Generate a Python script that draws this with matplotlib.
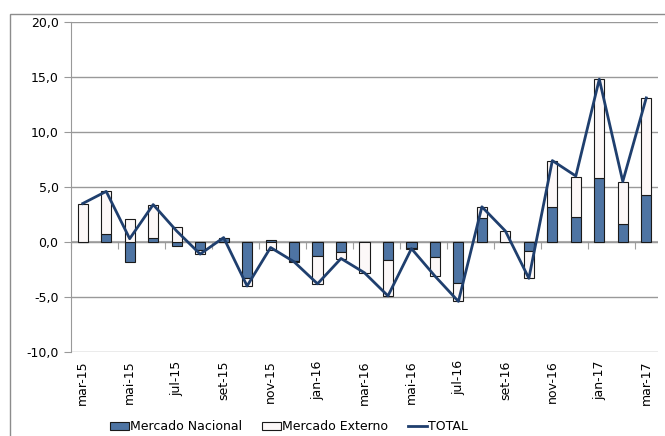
import numpy as np
import matplotlib
matplotlib.use("Agg")
import matplotlib.pyplot as plt
from matplotlib.ticker import FuncFormatter
from matplotlib.patches import Rectangle

months = ['mar-15', 'abr-15', 'mai-15', 'jun-15', 'jul-15', 'ago-15', 'set-15', 'out-15',
          'nov-15', 'dez-15', 'jan-16', 'fev-16', 'mar-16', 'abr-16', 'mai-16', 'jun-16',
          'jul-16', 'ago-16', 'set-16', 'out-16', 'nov-16', 'dez-16', 'jan-17', 'fev-17', 'mar-17']
nacional = [0.0, 0.7, -1.8, 0.4, -0.4, -0.7, 0.4, -3.3, 0.2, -1.7, -1.3, -0.9, 0.0,
            -1.6, -0.5, -1.4, -3.7, 2.2, 0.0, -0.8, 3.2, 2.3, 5.8, 1.6, 4.3]
externo = [3.5, 3.9, 2.1, 3.0, 1.4, -0.4, 0.0, -0.7, -0.7, -0.1, -2.5, -0.6, -2.8,
           -3.3, -0.1, -1.7, -1.7, 1.0, 1.0, -2.5, 4.2, 3.6, 9.0, 3.9, 8.8]
total = [3.5, 4.6, 0.3, 3.4, 1.0, -1.1, 0.4, -4.0, -0.5, -1.8, -3.8, -1.5, -2.8,
         -4.9, -0.6, -3.1, -5.4, 3.2, 1.0, -3.3, 7.4, 6.0, 14.8, 5.5, 13.1]

nac = np.array(nacional)
ext = np.array(externo)
x = np.arange(len(months))
# excel stacks positives and negatives separately
ext_bottom = np.where(np.sign(nac) == np.sign(ext), nac, 0)

fig = plt.figure(figsize=(6.65, 4.36), dpi=100)
ax = fig.add_axes([71 / 665, 1 - 352 / 436, 587 / 665, 330 / 436])

b1 = ax.bar(x, nac, width=0.43, color='#4E74A3', edgecolor='#1a1a1a', linewidth=0.8,
            label='Mercado Nacional', zorder=3)
b2 = ax.bar(x, ext, width=0.43, bottom=ext_bottom, color='#FCF8F8', edgecolor='#1a1a1a',
            linewidth=0.8, label='Mercado Externo', zorder=3)
l1, = ax.plot(x, total, color='#1F3F6E', linewidth=2, label='TOTAL', zorder=4)

ax.set_xlim(-0.5, len(months) - 0.5)
ax.set_ylim(-10, 20)
ax.set_yticks(np.arange(-10, 21, 5))
ax.yaxis.set_major_formatter(FuncFormatter(lambda v, p: f'{v:.1f}'.replace('.', ',')))
ax.grid(axis='y', color='#999999', linewidth=1, zorder=0)
ax.axhline(0, color='#b0b0b0', linewidth=1.5, zorder=1)

ax.set_xticks(x[::2])
ax.set_xticklabels(months[::2], rotation=90)
ax.tick_params(axis='x', length=0, pad=6, labelsize=9)
ax.tick_params(axis='y', length=5, color='#999999', labelsize=9, pad=4)

for s in ['top', 'right', 'bottom']:
    ax.spines[s].set_visible(False)
ax.spines['left'].set_color('#999999')

# tick marks on the zero line
sec = ax.secondary_xaxis(1 / 3)
sec.set_xticks(np.arange(-0.5, len(months), 2))
sec.set_xticklabels([])
sec.tick_params(length=5, color='#a0a0a0', direction='out')
sec.spines['bottom'].set_visible(False)

fig.legend(handles=[b1, b2, l1], loc='lower center', bbox_to_anchor=(0.435, -0.02), ncol=3,
           frameon=False, fontsize=9, handlelength=1.5, handletextpad=0.1, columnspacing=1.6,
           handleheight=0.7)

fig.patches.append(Rectangle((10 / 665, -0.05), 1, 1 - 14 / 436 + 0.05, transform=fig.transFigure,
                             fill=False, edgecolor='#8c8c8c', linewidth=1))

fig.savefig('out.png', dpi=100)
